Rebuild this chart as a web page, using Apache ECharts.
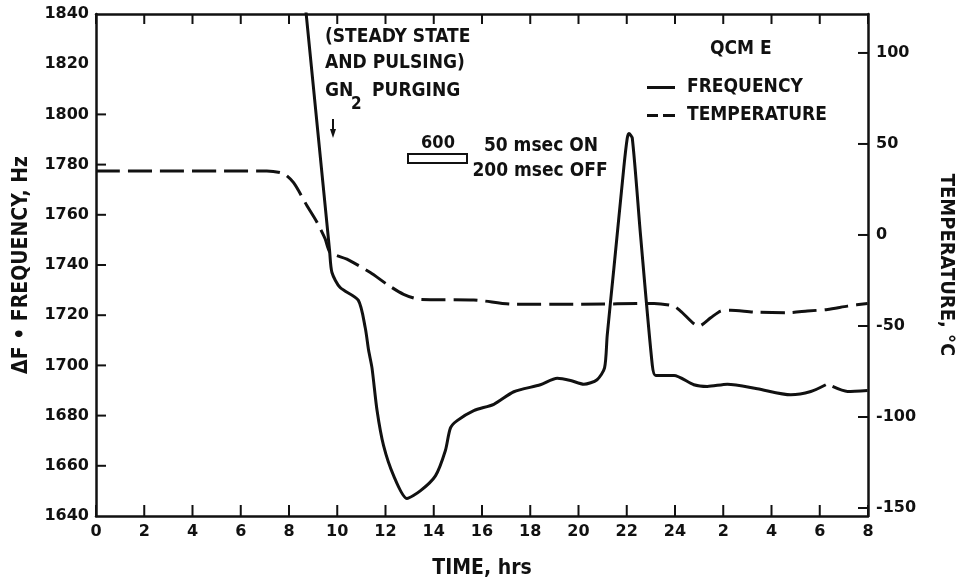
<!DOCTYPE html>
<html>
<head>
<meta charset="utf-8">
<script src="https://cdn.jsdelivr.net/npm/echarts@6/dist/echarts.min.js"></script>
<style>
html,body{margin:0;padding:0;background:#fff;}
#chart{width:959px;height:582px;}
</style>
</head>
<body>
<div id="chart"></div>
<script>
// ---- data ----
const xTickValues = [0,2,4,6,8,10,12,14,16,18,20,22,24,26,28,30,32];
const xTickLabels = ['0','2','4','6','8','10','12','14','16','18','20','22','24','2','4','6','8'];
const leftTicks = [1640,1660,1680,1700,1720,1740,1760,1780,1800,1820,1840];
const rightTicks = [-150,-100,-50,0,50,100];

const freqTime  = [8.63, 9.68, 9.78, 10.12, 10.87, 11.16, 11.30, 11.44, 11.65, 11.92, 12.34, 12.89, 13.44, 14.07, 14.48, 14.69, 14.97, 15.66, 16.49, 17.32, 18.42, 19.12, 19.67, 20.22, 20.77, 21.08, 21.19, 21.47, 21.88, 22.02, 22.09, 22.23, 22.57, 23.06, 23.20, 23.96, 24.78, 25.34, 26.17, 27.41, 28.80, 29.63, 30.25, 30.40, 30.53, 31.15, 31.98];
const freqValue = [1848, 1746, 1737, 1731, 1726, 1715, 1706, 1699, 1682, 1668, 1656, 1647, 1650, 1656, 1666, 1675, 1678, 1682, 1684.5, 1689.5, 1692.3, 1694.9, 1694, 1692.5, 1694.3, 1699, 1712, 1739, 1779, 1790.5, 1792.4, 1790.5, 1752, 1700, 1696, 1696, 1692.3, 1691.6, 1692.5, 1690.7, 1688.3, 1689.6, 1692.3, null, 1691.6, 1689.6, 1690];

const tempTime  = [0, 7.08, 7.77, 8.19, 8.74, 9.16, 9.50, 9.71, 10.40, 11.37, 12.06, 12.75, 13.44, 15.66, 17.32, 20.08, 23.13, 23.95, 24.23, 24.99, 25.48, 25.89, 26.31, 27.27, 28.66, 29.49, 30.32, 31.15, 31.98];
const tempValue = [35.2, 35.2, 33.7, 28.7, 16.2, 7.0, -2.2, -9.6, -13.3, -20.6, -27.1, -32.6, -35.4, -35.7, -38.1, -38.1, -37.6, -39.1, -41.8, -50.1, -45.5, -41.8, -41.3, -42.4, -42.7, -41.8, -40.9, -39.1, -37.6];

// ---- chart ----
const FONT = '"DejaVu Sans Condensed","Liberation Sans Narrow","DejaVu Sans",sans-serif';
const INK = '#111';
const X_MIN = 0, X_MAX = 32, F_MIN = 1640, F_MAX = 1840, T_MIN = -154.4, T_MAX = 121.4;
const chart = echarts.init(document.getElementById('chart'), null, {renderer:'canvas'});

const freqData = freqTime.map((t,i)=>[t, freqValue[i]===null ? '-' : freqValue[i]]);
const tempData = tempTime.map((t,i)=>[t, tempValue[i]]);

const axisLineStyle = {color: INK, width: 2.5};
const tickLabelStyle = {color: INK, fontFamily: '"DejaVu Sans",sans-serif', fontWeight: 'bold', fontSize: 16};

const annotations = [
  {type: 'text', left: 325, top: 28, style: {text: '(STEADY STATE', font: 'bold 19px ' + FONT, fill: INK}},
  {type: 'text', left: 325, top: 54, style: {text: 'AND PULSING)', font: 'bold 19px ' + FONT, fill: INK}},
  {type: 'text', left: 325, top: 82, style: {text: 'GN', font: 'bold 19px ' + FONT, fill: INK}},
  {type: 'text', left: 351, top: 96, style: {text: '2', font: 'bold 17px ' + FONT, fill: INK}},
  {type: 'text', left: 372, top: 82, style: {text: 'PURGING', font: 'bold 19px ' + FONT, fill: INK}},
  {type: 'line', shape: {x1: 333, y1: 119, x2: 333, y2: 131}, style: {stroke: INK, lineWidth: 2}},
  {type: 'polygon', shape: {points: [[330, 129], [336, 129], [333, 138]]}, style: {fill: INK}},
  {type: 'text', x: 438, y: 143, style: {text: '600', font: 'bold 18px ' + FONT, fill: INK, align: 'center', verticalAlign: 'middle'}},
  {type: 'rect', shape: {x: 408, y: 154, width: 59, height: 9}, style: {fill: 'none', stroke: INK, lineWidth: 2}},
  {type: 'text', x: 541, y: 146, style: {text: '50 msec ON', font: 'bold 19px ' + FONT, fill: INK, align: 'center', verticalAlign: 'middle'}},
  {type: 'text', x: 540, y: 171, style: {text: '200 msec OFF', font: 'bold 19px ' + FONT, fill: INK, align: 'center', verticalAlign: 'middle'}}
];

const option = {
  animation: false,
  backgroundColor: '#fff',
  grid: {left: 96, right: 91, top: 14, bottom: 66, containLabel: false, outerBoundsMode: 'none'},
  title: {
    text: 'QCM E', left: 705, top: 35,
    textStyle: {fontFamily: FONT, fontWeight: 'bold', fontSize: 19, color: INK}
  },
  legend: {
    orient: 'vertical', left: 642, top: 73,
    itemWidth: 28, itemHeight: 14, itemGap: 9,
    selectedMode: false,
    textStyle: {fontFamily: FONT, fontWeight: 'bold', fontSize: 19, color: INK, lineHeight: 17, padding: [0,0,0,7]},
    data: [
      {name: 'FREQUENCY', icon: 'path://M0,6 L28,6 L28,9 L0,9 Z', itemStyle: {color: INK}},
      {name: 'TEMPERATURE', icon: 'path://M0,6 L11,6 L11,9 L0,9 Z M16,6 L28,6 L28,9 L16,9 Z', itemStyle: {color: INK}}
    ]
  },
  xAxis: [
    {
      type: 'value', min: X_MIN, max: X_MAX, interval: 2, position: 'bottom',
      name: 'TIME, hrs', nameLocation: 'middle', nameGap: 42,
      nameTextStyle: {fontFamily: FONT, fontWeight: 'bold', fontSize: 21, color: INK},
      axisLine: {show: true, onZero: false, lineStyle: axisLineStyle},
      axisTick: {show: false},
      axisLabel: Object.assign({margin: 8, customValues: xTickValues, formatter: v => xTickLabels[Math.round(v/2)]}, tickLabelStyle),
      splitLine: {show: false}
    },
    {
      type: 'value', min: X_MIN, max: X_MAX, interval: 2, position: 'top',
      axisLine: {show: true, onZero: false, lineStyle: axisLineStyle},
      axisTick: {show: false},
      axisLabel: {show: false},
      splitLine: {show: false}
    }
  ],
  yAxis: [
    {
      type: 'value', min: F_MIN, max: F_MAX, interval: 20, position: 'left',
      name: 'ΔF • FREQUENCY, Hz', nameLocation: 'middle', nameGap: 64, nameRotate: 90,
      nameTextStyle: {fontFamily: FONT, fontWeight: 'bold', fontSize: 21, color: INK},
      axisLine: {show: true, onZero: false, lineStyle: axisLineStyle},
      axisTick: {show: false},
      axisLabel: Object.assign({margin: 7, customValues: leftTicks, formatter: v => String(v)}, tickLabelStyle),
      splitLine: {show: false}
    },
    {
      type: 'value', min: T_MIN, max: T_MAX, position: 'right',
      name: 'TEMPERATURE, °C', nameLocation: 'middle', nameGap: 68, nameRotate: -90,
      nameTextStyle: {fontFamily: FONT, fontWeight: 'bold', fontSize: 20, color: INK},
      axisLine: {show: true, onZero: false, lineStyle: axisLineStyle},
      axisTick: {show: false},
      axisLabel: Object.assign({margin: 8, customValues: rightTicks, formatter: v => String(v)}, tickLabelStyle),
      splitLine: {show: false}
    }
  ],
  series: [
    {
      name: 'FREQUENCY', type: 'line', xAxisIndex: 0, yAxisIndex: 0,
      data: freqData, symbol: 'none', smooth: 0.25,
      connectNulls: false, clip: true, z: 3,
      lineStyle: {color: INK, width: 3}, itemStyle: {color: INK}
    },
    {
      name: 'TEMPERATURE', type: 'line', xAxisIndex: 0, yAxisIndex: 1,
      data: tempData, symbol: 'none', smooth: 0.25,
      clip: true, z: 3,
      lineStyle: {color: INK, width: 3, type: [24, 8]}, itemStyle: {color: INK}
    }
  ],
  graphic: annotations
};
chart.setOption(option);

// ---- inward tick marks, placed through the axes' own scales ----
const toPx = (xi, yi, pt) => chart.convertToPixel({xAxisIndex: xi, yAxisIndex: yi}, pt);
const tick = (x1, y1, x2, y2) => ({type: 'line', zlevel: 10, z: 100, silent: true,
  shape: {x1, y1, x2, y2}, style: {stroke: INK, lineWidth: 2}});
const ticks = [];
xTickValues.forEach(v => {
  const b = toPx(0, 0, [v, F_MIN]);
  const t = toPx(0, 0, [v, F_MAX]);
  ticks.push(tick(b[0], b[1], b[0], b[1] - 11));
  ticks.push(tick(t[0], t[1], t[0], t[1] + 10));
});
leftTicks.slice(1, 9).forEach(v => {
  const p = toPx(0, 0, [X_MIN, v]);
  ticks.push(tick(p[0], p[1], p[0] + 10, p[1]));
});
rightTicks.forEach(v => {
  const p = toPx(0, 1, [X_MAX, v]);
  ticks.push(tick(p[0], p[1], p[0] - 10, p[1]));
});
chart.setOption({graphic: annotations.concat(ticks)});
</script>
</body>
</html>
